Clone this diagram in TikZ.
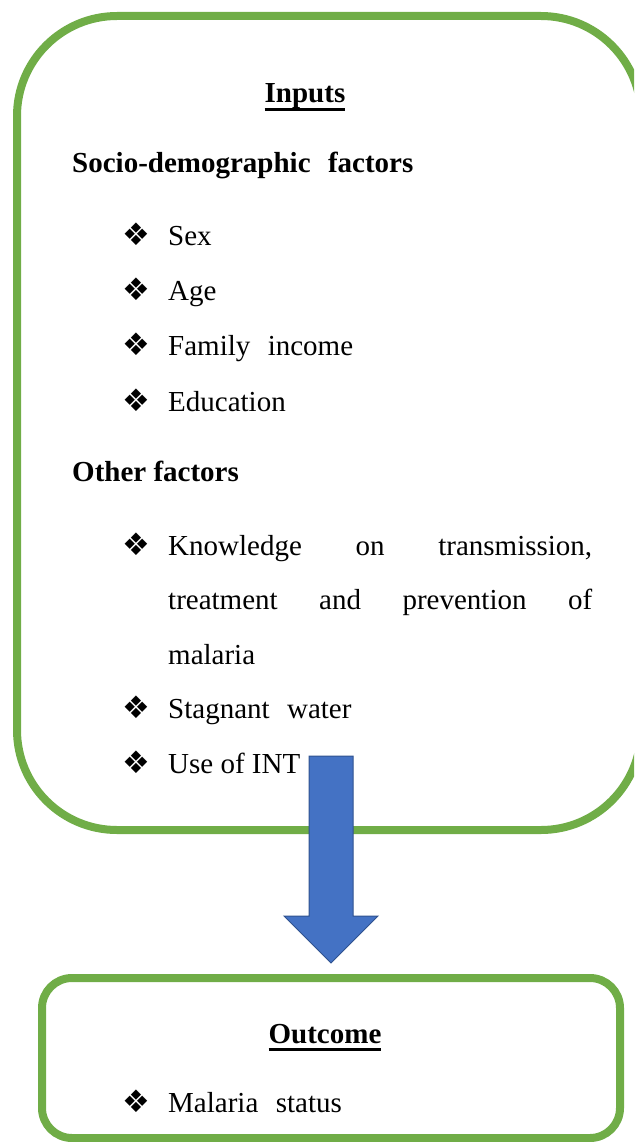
\documentclass[tikz,border=0pt]{standalone}
\usepackage{fontspec}
\setmainfont{Liberation Serif}
\newfontfamily\dingfont{DejaVu Sans}
\usepackage{xcolor}
\usepackage{tikz}
\usetikzlibrary{positioning, calc}
\definecolor{boxgreen}{HTML}{70AD47}
\definecolor{arrowblue}{HTML}{4472C4}
\definecolor{arrowedge}{HTML}{2F528F}
\newcommand{\itemsize}{\fontsize{29}{54.5}\selectfont}
\newcommand{\bul}{\makebox[46pt][l]{\dingfont\fontsize{31}{31}\selectfont\char"2756}}
\newcommand{\wsp}{\hspace{0.6em}}
\newcommand{\ulhead}[1]{\setbox0\hbox{#1}\rlap{\rule[-8pt]{\wd0}{2.6pt}}\box0}
\tikzstyle{frame} = [draw=boxgreen, line width=8pt, inner sep=0pt]
\tikzstyle{heading} = [font=\itemsize\bfseries, inner sep=0pt, anchor=base west]
\tikzstyle{listitem} = [font=\itemsize, inner sep=0pt, text height=21pt, text depth=7pt]
\tikzstyle{para} = [font=\itemsize, inner sep=0pt, text width=424pt, align=justify, anchor=north west]
\tikzstyle{flow} = [fill=arrowblue, draw=arrowedge, line width=1pt]

\begin{document}
\begin{tikzpicture}[x=1pt, y=-1pt]
	\useasboundingbox (0,0) rectangle (634,1142);
	\clip (0,0) rectangle (634,1142);
	
	% boxes
	\node (inputs-box) [frame, rounded corners=100pt, minimum width=624pt, minimum height=814pt] at (329,423) {};
	
	\node (outcome-box) [frame, rounded corners=30pt, minimum width=578pt, minimum height=160pt] at (331,1058) {};
	
	% inputs
	\node (inputs) [heading, anchor=base] at (305,103) {\ulhead{Inputs}};
	
	\node (socio) [heading] at (72,172) {Socio-demographic\wsp factors};
	
	\node (sex) [listitem, anchor=west] at (122,238) {\bul Sex};
	
	\node (age) [listitem, below=27pt of sex.south west, anchor=north west] {\bul Age};
	
	\node (income) [listitem, below=27pt of age.south west, anchor=north west] {\bul Family\wsp income};
	
	\node (education) [listitem, below=27pt of income.south west, anchor=north west] {\bul Education};
	
	\node (other) [heading] at (72,481) {Other factors};
	
	\node (knowledge-bul) [listitem, anchor=west] at (122,548) {\bul};
	
	\node (knowledge) [para] at (168,535) {Knowledge on transmission,\linebreak treatment and prevention of\linebreak malaria};
	
	\node (water) [listitem, anchor=west] at (122,711) {\bul Stagnant\wsp water};
	
	\node (int) [listitem, below=27pt of water.south west, anchor=north west] {\bul Use of INT};
	
	% outcome
	\node (outcome) [heading, anchor=base] at (325,1043) {\ulhead{Outcome}};
	
	\node (status) [listitem, anchor=west] at (122,1105) {\bul Malaria\wsp status};
	
	% arrows
	\coordinate (arrow-tip) at ([yshift=11pt] outcome-box.north);
	\filldraw [flow] (arrow-tip) -- ++(47,-47) -- ++(-25,0) -- ++(0,-160) -- ++(-44,0) -- ++(0,160) -- ++(-25,0) -- cycle;
\end{tikzpicture}
\end{document}
